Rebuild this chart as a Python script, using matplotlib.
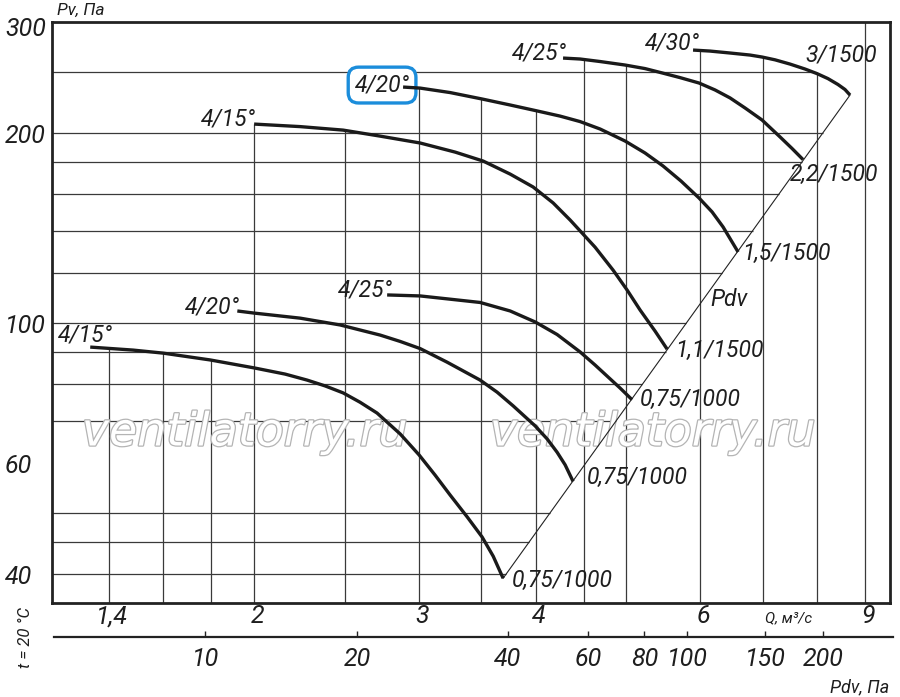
import numpy as np
import matplotlib
matplotlib.use('Agg')
import matplotlib.pyplot as plt
from matplotlib import patheffects as pe
from matplotlib.ticker import NullLocator, NullFormatter
from matplotlib.transforms import ScaledTranslation

plt.rcParams['font.family'] = ['Roboto', 'DejaVu Sans']
plt.rcParams['font.style'] = 'italic'

# ---------------- data ----------------
# fan curves: flow Q (m3/s) and static pressure Pv (Pa)
q_415a = [1.336, 1.485, 1.599, 1.795, 2.000, 2.159, 2.279, 2.382, 2.490, 2.596, 2.707,
          2.866, 3.002, 3.123, 3.240, 3.379, 3.506, 3.603, 3.692]
p_415a = [91.6, 90.6, 89.6, 87.4, 84.9, 83.0, 81.2, 79.5, 77.5, 74.9, 72.0,
          66.7, 61.8, 57.4, 53.4, 49.3, 45.8, 42.7, 39.4]

q_420a = [1.919, 2.000, 2.240, 2.472, 2.728, 2.866, 3.010, 3.216, 3.489, 3.638, 3.785,
          3.995, 4.115, 4.217, 4.301, 4.386]
p_420a = [104.5, 103.7, 101.8, 99.3, 95.7, 93.5, 91.1, 86.7, 81.2, 77.7, 73.9,
          68.7, 65.5, 62.4, 59.6, 56.1]

q_425a = [2.775, 3.010, 3.240, 3.489, 3.757, 3.995, 4.217, 4.462, 4.630, 4.769, 4.923, 5.071]
p_425a = [110.8, 110.4, 109.1, 107.8, 104.5, 100.4, 95.9, 90.0, 85.8, 82.4, 78.9, 75.6]

q_415b = [2.000, 2.240, 2.490, 2.728, 3.010, 3.281, 3.515, 3.757, 3.975, 4.176, 4.355,
          4.630, 4.840, 5.010, 5.172, 5.367, 5.529]
p_415b = [206.7, 204.8, 202.2, 197.8, 192.9, 186.6, 180.6, 172.2, 164.3, 155.0, 145.6,
          131.9, 121.3, 112.8, 104.9, 97.1, 90.9]

q_420b = [2.886, 3.010, 3.240, 3.506, 3.757, 3.995, 4.248, 4.462, 4.688, 4.985, 5.236,
          5.473, 5.721, 5.981, 6.176, 6.345, 6.584]
p_420b = [236.6, 235.7, 231.9, 226.5, 221.6, 217.2, 212.8, 208.6, 203.0, 194.3, 186.0,
          177.4, 167.9, 157.8, 150.0, 142.0, 129.6]

q_425b = [4.279, 4.462, 4.688, 4.985, 5.236, 5.473, 5.707, 5.981, 6.221, 6.455, 6.698,
          6.984, 7.301, 7.519, 7.725]
p_425b = [263.0, 262.1, 259.7, 256.4, 253.1, 248.9, 244.9, 240.1, 234.1, 227.4, 219.2,
          209.8, 197.2, 189.1, 181.6]

q_430 = [5.893, 6.145, 6.455, 6.781, 6.984, 7.212, 7.482, 7.763, 7.996, 8.215, 8.420,
         8.566, 8.673]
p_430 = [270.8, 269.8, 267.9, 265.9, 264.0, 261.3, 257.3, 252.7, 248.5, 244.0, 238.8,
         234.5, 229.8]

curve_q = [q_415a, q_420a, q_425a, q_415b, q_420b, q_425b, q_430]
curve_p = [p_415a, p_420a, p_425a, p_415b, p_420b, p_425b, p_430]
blade_labels = ["4/15°", "4/20°", "4/25°", "4/15°", "4/20°", "4/25°", "4/30°"]
motor_labels = ["0,75/1000", "0,75/1000", "0,75/1000", "1,1/1500", "1,5/1500", "2,2/1500", "3/1500"]

# grid values
grid_p = [40, 45, 50, 70, 80, 90, 100, 120, 140, 160, 180, 200, 250]
grid_q = [1.4, 1.6, 1.8, 2, 2.5, 3, 3.5, 4, 4.5, 5, 6, 7, 8, 9]

# tick labels
y_ticks = [40, 60, 100, 200, 300]
y_tick_labels = ["40", "60", "100", "200", "300"]
x_ticks = [1.4, 2, 3, 4, 6, 9]
x_tick_labels = ["1,4", "2", "3", "4", "6", "9"]
pdv_ticks = ["10", "20", "40", "60", "80", "100", "150", "200"]
pdv_tick_q = [1.774, 2.579, 3.737, 4.548, 5.228, 5.811, 7.04, 8.124]

Q_MIN, Q_MAX = 1.216, 9.57
P_MIN, P_MAX = 36.0, 300.0

# ---------------- layout / style ----------------
W, H = 900, 697
def fx(x):
    return x / W
def fy(y):
    return 1 - y / H

TXT = '#1e1e1e'
GRID = '#3a3a3a'
LBL = 16.5
TICK = 18

# label offsets in pixels (dx right, dy up) relative to curve start / end
start_off = [(-5, 12), (-25, 4), (-22, 5), (-26, 5), (-21, 2), (-24, 5), (-21, 7)]
end_off = [(9, -2), (14, 4), (8, 0), (8, -1), (4, -1), (-13, -15), (-45, 40)]

fig = plt.figure(figsize=(9, 6.97), dpi=100)
ax = fig.add_axes([fx(52), fy(603), (890 - 52) / W, (603 - 22) / H])
ax.set_xscale('log')
ax.set_yscale('log')
ax.set_xlim(Q_MIN, Q_MAX)
ax.set_ylim(P_MIN, P_MAX)
for s in ax.spines.values():
    s.set_linewidth(2.0)
    s.set_color('#222222')

lq = [np.log10(np.array(q)) for q in curve_q]
lp = [np.log10(np.array(p)) for p in curve_p]

# system (Pdv) line through curve end points
lq0, lp0 = lq[0][-1], lp[0][-1]
lq1, lp1 = lq[-1][-1], lp[-1][-1]

def q_on_pdv(p):
    t = (np.log10(p) - lp0) / (lp1 - lp0)
    return 10 ** (lq0 + t * (lq1 - lq0))

def q_on_curve(i, p):
    return 10 ** np.interp(np.log10(p), lp[i][::-1], lq[i][::-1])

# horizontal grid lines: clipped on the right by the Pdv line / last curve
for p in grid_p:
    if p <= curve_p[-1][-1]:
        qe = q_on_pdv(p)
    else:
        qe = q_on_curve(len(curve_q) - 1, p)
    ax.plot([Q_MIN, qe], [p, p], color=GRID, lw=0.9, zorder=1, solid_capstyle='butt')

# vertical grid lines: clipped on top by the highest curve
for q in grid_q:
    tops = []
    for i in range(len(curve_q)):
        if curve_q[i][0] - 1e-9 <= q <= curve_q[i][-1] + 1e-9:
            tops.append(10 ** np.interp(np.log10(q), lq[i], lp[i]))
    top = max(tops) if tops else P_MAX
    ax.plot([q, q], [P_MIN, top], color=GRID, lw=0.9, zorder=1, solid_capstyle='butt')

# watermark
for cx in (245, 653):
    ax.text(fx(cx), fy(433), 'ventilatorry.ru', transform=fig.transFigure,
            fontsize=33, family='DejaVu Sans', style='oblique', color='white',
            ha='center', va='center', zorder=1.5,
            path_effects=[pe.Stroke(linewidth=1.8, foreground='#b4b4b4'), pe.Normal()])

# Pdv line
ax.plot([curve_q[0][-1], curve_q[-1][-1]], [curve_p[0][-1], curve_p[-1][-1]],
        color='#222222', lw=0.8, zorder=2)

# fan curves and labels
for i in range(len(curve_q)):
    ax.plot(curve_q[i], curve_p[i], color='#1a1a1a', lw=2.4, zorder=3,
            solid_capstyle='butt', solid_joinstyle='round')
    kw = {}
    if i == 4:
        kw['bbox'] = dict(boxstyle='round,pad=0.28,rounding_size=0.45',
                          fc='white', ec='#1b8ddb', lw=2.4)
    ax.annotate(blade_labels[i], (curve_q[i][0], curve_p[i][0]),
                xytext=start_off[i], textcoords='offset pixels',
                ha='center', va='center', fontsize=LBL, color=TXT, zorder=2.5, **kw)
    ax.annotate(motor_labels[i], (curve_q[i][-1], curve_p[i][-1]),
                xytext=end_off[i], textcoords='offset pixels',
                ha='left', va='center', fontsize=LBL, color=TXT, zorder=4)

# ticks of the main axes
ax.xaxis.set_minor_locator(NullLocator())
ax.yaxis.set_minor_locator(NullLocator())
ax.xaxis.set_minor_formatter(NullFormatter())
ax.yaxis.set_minor_formatter(NullFormatter())
ax.set_xticks(x_ticks)
ax.set_xticklabels(x_tick_labels, fontsize=TICK, color=TXT)
ax.set_yticks(y_ticks)
ax.set_yticklabels(y_tick_labels, fontsize=TICK, color=TXT)
ax.tick_params(axis='x', length=0, pad=1)
ax.tick_params(axis='y', length=0, pad=33.8)
for t in ax.get_yticklabels():
    t.set_horizontalalignment('left')
# small optical shifts of tick labels (italic glyphs)
for t in ax.get_xticklabels():
    t.set_transform(t.get_transform() + ScaledTranslation(0.03, 0, fig.dpi_scale_trans))
top_lbl = ax.get_yticklabels()[-1]
top_lbl.set_transform(top_lbl.get_transform() + ScaledTranslation(0, -0.05, fig.dpi_scale_trans))

# secondary Pdv scale
def q_at_px(x):
    a, b = np.log10(Q_MIN), np.log10(Q_MAX)
    return 10 ** (a + (x - 52) / (890 - 52) * (b - a))

ax2 = fig.add_axes([fx(54), fy(637), (893 - 54) / W, 0.0005])
ax2.set_xscale('log')
ax2.set_xlim(q_at_px(54), q_at_px(893))
for k in ('top', 'left', 'right'):
    ax2.spines[k].set_visible(False)
ax2.spines['bottom'].set_linewidth(1.6)
ax2.spines['bottom'].set_color('#222222')
ax2.patch.set_visible(False)
ax2.yaxis.set_visible(False)
ax2.xaxis.set_minor_locator(NullLocator())
ax2.xaxis.set_minor_formatter(NullFormatter())
ax2.set_xticks(pdv_tick_q)
ax2.set_xticklabels(pdv_ticks, fontsize=TICK, color=TXT)
ax2.tick_params(axis='x', direction='in', length=4, width=1.0, color='#222222', pad=7)

# axis titles
fig.text(fx(57), fy(10), 'Pv, Па', fontsize=12.5, ha='left', va='center', color=TXT)
fig.text(fx(789), fy(618), 'Q, м³/с', fontsize=11, ha='center', va='center', color=TXT)
fig.text(fx(860), fy(687), 'Pdv, Па', fontsize=13, ha='center', va='center', color=TXT)
fig.text(fx(26), fy(638), 't = 20 °C', rotation=90, fontsize=12, ha='center', va='center', color=TXT)
fig.text(fx(729), fy(299), 'Pdv', fontsize=LBL, ha='center', va='center', color=TXT)

fig.savefig('out.png', dpi=100, facecolor='white')
